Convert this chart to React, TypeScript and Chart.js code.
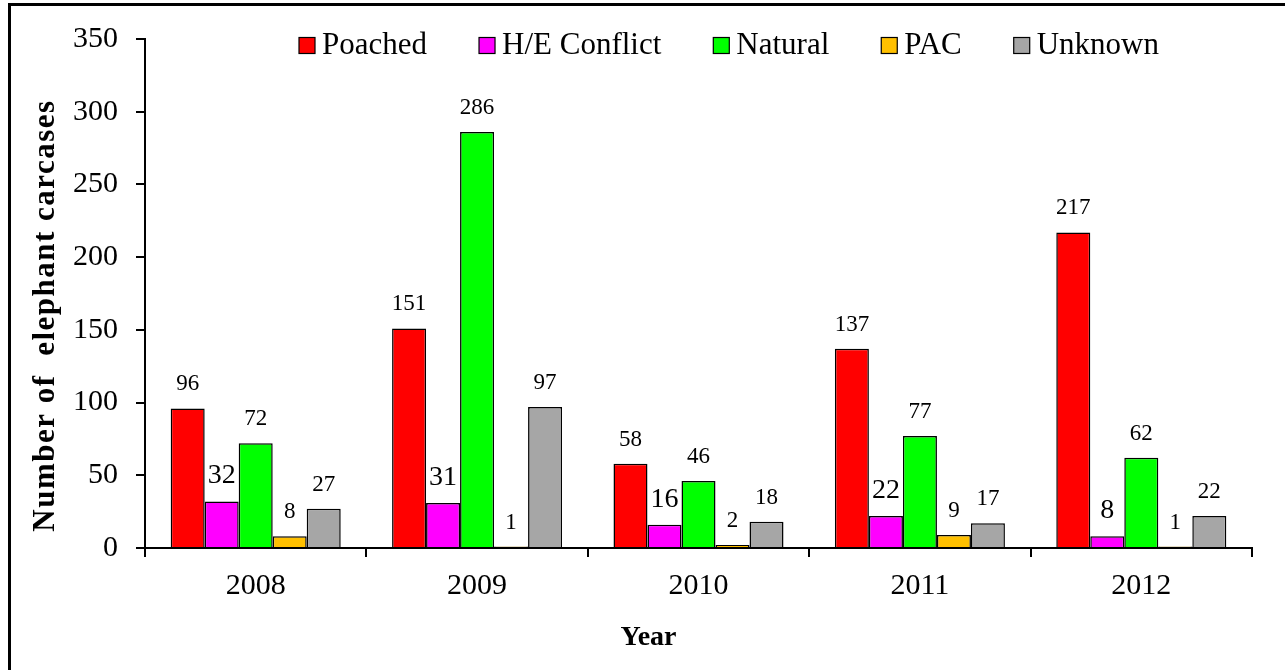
import React, { useEffect, useRef } from 'react';
import { Chart, registerables } from 'chart.js';

Chart.register(...registerables);

const years = ['2008', '2009', '2010', '2011', '2012'];
const poached = [96, 151, 58, 137, 217];
const heConflict = [32, 31, 16, 22, 8];
const natural = [72, 286, 46, 77, 62];
const pac = [8, 1, 2, 9, 1];
const unknown = [27, 97, 18, 17, 22];
const seriesNames = ['Poached', 'H/E Conflict', 'Natural', 'PAC', 'Unknown'];
const seriesColors = ['#FF0000', '#FF00FF', '#00FF00', '#FFC000', '#A6A6A6'];
const yMin = 0;
const yMax = 350;
const yStep = 50;
const xTitle = 'Year';
const yTitle = 'Number of  elephant carcases';

const FONT = '"Liberation Serif", "Times New Roman", serif';

const legendPlugin = {
  id: 'insideLegend',
  afterDraw(chart: any) {
    const ctx = chart.ctx;
    const area = chart.chartArea;
    ctx.save();
    ctx.font = `31px ${FONT}`;
    ctx.textAlign = 'left';
    ctx.textBaseline = 'alphabetic';
    let x = area.left + 154;
    const boxTop = area.top - 1.5;
    const baseline = area.top + 15;
    chart.data.datasets.forEach((ds: any) => {
      ctx.fillStyle = ds.backgroundColor;
      ctx.fillRect(x, boxTop, 16, 16);
      ctx.strokeStyle = '#000';
      ctx.lineWidth = 1.2;
      ctx.strokeRect(x, boxTop, 16, 16);
      ctx.fillStyle = '#000';
      ctx.fillText(ds.label, x + 23, baseline);
      x += 23 + ctx.measureText(ds.label).width + 52;
    });
    ctx.restore();
  },
};

const labelPlugin = {
  id: 'barValueLabels',
  afterDatasetsDraw(chart: any) {
    const ctx = chart.ctx;
    ctx.save();
    ctx.fillStyle = '#000';
    ctx.textAlign = 'center';
    ctx.textBaseline = 'alphabetic';
    chart.data.datasets.forEach((ds: any, i: number) => {
      const meta = chart.getDatasetMeta(i);
      ctx.font = `${i === 1 ? 28 : 23}px ${FONT}`;
      meta.data.forEach((el: any, j: number) => {
        ctx.fillText(String(ds.data[j]), el.x, el.y - 18);
      });
    });
    ctx.restore();
  },
};

const titlesPlugin = {
  id: 'axisTitles',
  afterDraw(chart: any) {
    const ctx = chart.ctx;
    const area = chart.chartArea;
    ctx.save();
    ctx.fillStyle = '#000';
    ctx.font = `bold 31px ${FONT}`;
    try { (ctx as any).letterSpacing = '1.5px'; } catch (e) {}
    ctx.translate(area.left - 99, (area.top + area.bottom) / 2 + 22);
    ctx.rotate(-Math.PI / 2);
    ctx.textAlign = 'center';
    ctx.textBaseline = 'middle';
    ctx.fillText(yTitle, 0, 0);
    ctx.restore();
    ctx.save();
    ctx.fillStyle = '#000';
    ctx.font = `bold 28px ${FONT}`;
    ctx.textAlign = 'center';
    ctx.textBaseline = 'alphabetic';
    ctx.fillText(xTitle, chart.width / 2 + 6, area.bottom + 97);
    ctx.restore();
  },
};

export default function App() {
  const canvasRef = useRef<HTMLCanvasElement | null>(null);

  useEffect(() => {
    const canvas = canvasRef.current;
    if (!canvas) return;
    const seriesData = [poached, heConflict, natural, pac, unknown];
    const chart = new Chart(canvas, {
      type: 'bar',
      data: {
        labels: years,
        datasets: seriesNames.map((name, i) => ({
          label: name,
          data: seriesData[i],
          backgroundColor: seriesColors[i],
          borderColor: '#000',
          borderWidth: 1.5,
          categoryPercentage: 0.768,
          barPercentage: 1.0,
        })),
      },
      options: {
        responsive: false,
        animation: false,
        devicePixelRatio: 1,
        layout: { padding: { left: 0, top: 39, right: 33, bottom: 0 } },
        plugins: {
          legend: { display: false },
          tooltip: { enabled: false },
          title: { display: false },
        },
        scales: {
          x: {
            offset: true,
            grid: {
              display: true,
              offset: true,
              drawOnChartArea: false,
              drawTicks: true,
              tickLength: 9,
              color: '#000',
              lineWidth: 2,
            },
            border: { display: true, color: '#000', width: 2 },
            ticks: {
              color: '#000',
              font: { family: FONT, size: 30 },
              padding: 11,
              maxRotation: 0,
            },
            afterFit: (scale: any) => {
              scale.height = 122;
            },
          },
          y: {
            min: yMin,
            max: yMax,
            grid: {
              display: true,
              drawOnChartArea: false,
              drawTicks: true,
              tickLength: 9,
              color: '#000',
              lineWidth: 2,
            },
            border: { display: true, color: '#000', width: 2 },
            ticks: {
              stepSize: yStep,
              color: '#000',
              font: { family: FONT, size: 30 },
              padding: 18,
            },
            afterFit: (scale: any) => {
              scale.width = 145;
            },
          },
        },
      },
      plugins: [labelPlugin, legendPlugin, titlesPlugin],
    });
    return () => chart.destroy();
  }, []);

  return (
    <>
      <div
        style={{
          position: 'fixed',
          left: 8,
          top: 3,
          width: 1400,
          height: 800,
          border: '3px solid #000',
          boxSizing: 'border-box',
        }}
      />
      <canvas
        ref={canvasRef}
        width={1285}
        height={670}
        style={{ position: 'fixed', left: 0, top: 0, width: 1285, height: 670 }}
      />
    </>
  );
}
